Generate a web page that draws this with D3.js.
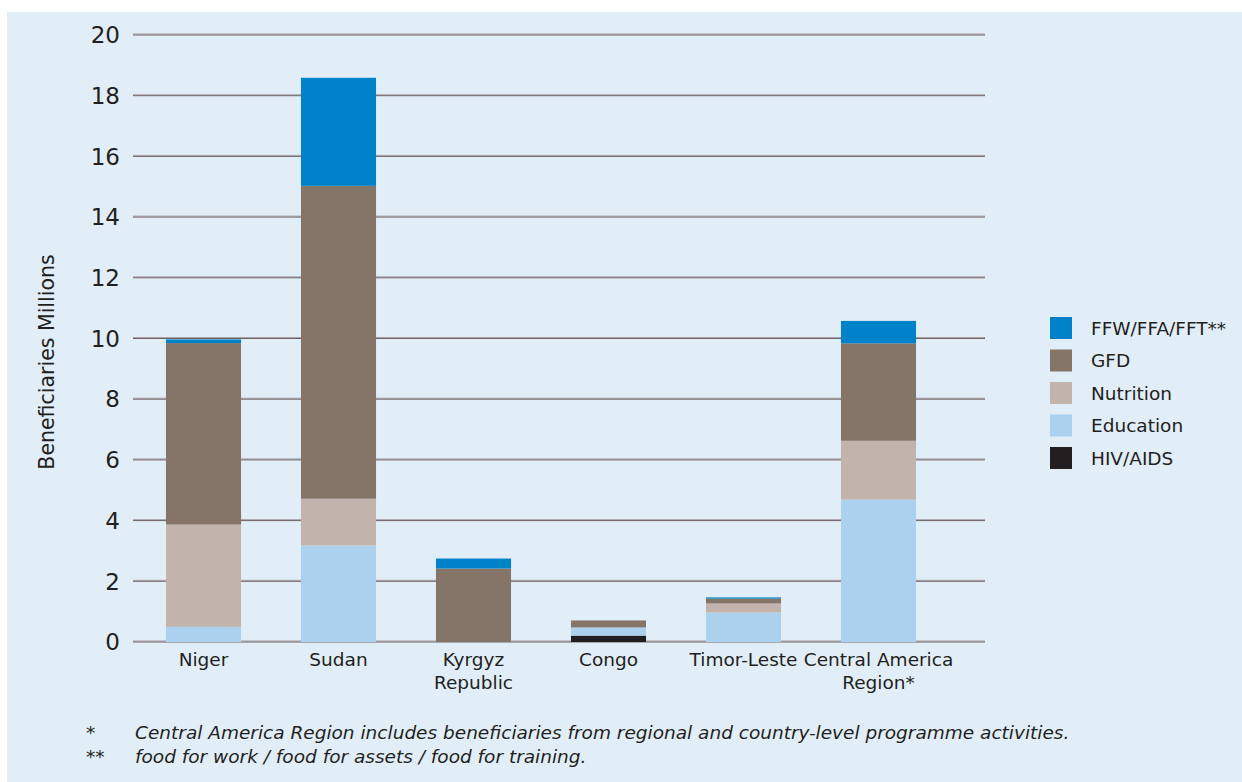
<!DOCTYPE html>
<html>
<head>
<meta charset="utf-8">
<script src="https://cdn.jsdelivr.net/npm/d3@7"></script>
<style>
  html, body { margin: 0; padding: 0; background: #ffffff; }
  svg { display: block; }
  text { font-family: "DejaVu Sans", Verdana, sans-serif; fill: #231f20; }
</style>
</head>
<body>
<script>
// ---- data ----
const categories = ["Niger", "Sudan", "Kyrgyz\nRepublic", "Congo", "Timor-Leste", "Central America\nRegion*"];
const seriesNames = ["HIV/AIDS", "Education", "Nutrition", "GFD", "FFW/FFA/FFT**"];
const hivValues       = [0,    0,     0,    0.21, 0,    0];
const educationValues = [0.50, 3.18,  0,    0.27, 0.97, 4.69];
const nutritionValues = [3.37, 1.54,  0,    0,    0.30, 1.94];
const gfdValues       = [5.98, 10.31, 2.42, 0.23, 0.16, 3.21];
const ffwValues       = [0.12, 3.56,  0.33, 0,    0.04, 0.74];
const yTicks = [0, 2, 4, 6, 8, 10, 12, 14, 16, 18, 20];
const legendOrder = ["FFW/FFA/FFT**", "GFD", "Nutrition", "Education", "HIV/AIDS"];
const colors = {
  "FFW/FFA/FFT**": "#0082c8",
  "GFD": "#857468",
  "Nutrition": "#c2b4ac",
  "Education": "#abd1ee",
  "HIV/AIDS": "#231f20"
};
const footnotes = [
  ["*", "Central America Region includes beneficiaries from regional and country-level programme activities."],
  ["**", "food for work / food for assets / food for training."]
];

// ---- build ----
const W = 1242, H = 782;
const svg = d3.select("body").append("svg").attr("width", W).attr("height", H);

svg.append("rect").attr("x", 7).attr("y", 12).attr("width", W - 7).attr("height", H - 12)
  .attr("fill", "#e1eef8");

const plotLeft = 133, plotRight = 985;
const y = d3.scaleLinear().domain([0, 20]).range([642, 35]);
const x = d3.scaleBand().domain(categories).range([136, 946]).paddingInner(0.444).paddingOuter(0.222);

const table = categories.map((c, i) => ({
  cat: c,
  "HIV/AIDS": hivValues[i],
  "Education": educationValues[i],
  "Nutrition": nutritionValues[i],
  "GFD": gfdValues[i],
  "FFW/FFA/FFT**": ffwValues[i]
}));
const stacked = d3.stack().keys(seriesNames)(table);

// gridlines
const grid = svg.append("g");
yTicks.forEach(t => {
  grid.append("line").attr("x1", plotLeft).attr("x2", plotRight)
    .attr("y1", y(t) - 1).attr("y2", y(t) - 1)
    .attr("stroke", "#a9a3a8").attr("stroke-width", 1);
  grid.append("line").attr("x1", plotLeft).attr("x2", plotRight)
    .attr("y1", y(t)).attr("y2", y(t))
    .attr("stroke", "#6f6265").attr("stroke-width", 1);
});

// y tick labels
svg.append("g").selectAll("text").data(yTicks).join("text")
  .attr("x", 120).attr("y", d => y(d)).attr("dy", "0.36em")
  .attr("text-anchor", "end").attr("font-size", 23)
  .text(d => d);

// bars
svg.append("g").selectAll("g").data(stacked).join("g")
  .attr("fill", d => colors[d.key])
  .selectAll("rect").data(d => d.filter(s => s[1] - s[0] > 0)).join("rect")
  .attr("x", d => x(d.data.cat))
  .attr("width", x.bandwidth())
  .attr("y", d => y(d[1]))
  .attr("height", d => y(d[0]) - y(d[1]));

// x labels
const xl = svg.append("g").selectAll("text").data(categories).join("text")
  .attr("x", d => x(d) + x.bandwidth() / 2)
  .attr("y", 666)
  .attr("text-anchor", "middle").attr("font-size", 18.5);
xl.each(function(d) {
  const lines = d.split("\n");
  d3.select(this).selectAll("tspan").data(lines).join("tspan")
    .attr("x", x(d) + x.bandwidth() / 2)
    .attr("dy", (l, i) => i === 0 ? 0 : 23)
    .text(l => l);
});

// y axis title
svg.append("text")
  .attr("transform", "translate(54,362) rotate(-90)")
  .attr("text-anchor", "middle").attr("font-size", 20.5)
  .text("Beneficiaries Millions");

// legend
const lg = svg.append("g").selectAll("g").data(legendOrder).join("g")
  .attr("transform", (d, i) => `translate(1050,${317 + i * 32.5})`);
lg.append("rect").attr("width", 22).attr("height", 22).attr("fill", d => colors[d]);
lg.append("text").attr("x", 41).attr("y", 11).attr("dy", "0.36em")
  .attr("font-size", 18.5).text(d => d);

// footnotes
const fn = svg.append("g").selectAll("g").data(footnotes).join("g")
  .attr("transform", (d, i) => `translate(0,${739 + i * 24})`);
fn.append("text").attr("x", 86).attr("font-size", 18.5).attr("font-style", "italic").text(d => d[0]);
fn.append("text").attr("x", 135).attr("font-size", 18.5).attr("font-style", "italic").text(d => d[1]);
</script>
</body>
</html>
